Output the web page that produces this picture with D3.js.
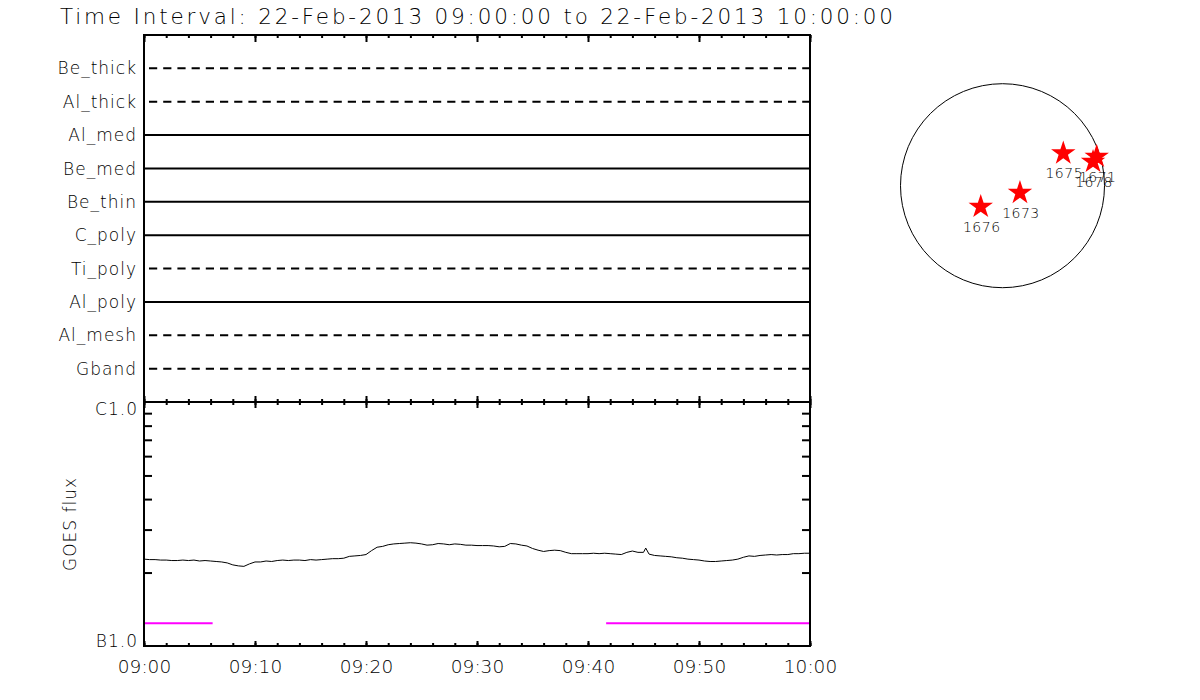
<!DOCTYPE html>
<html><head><meta charset="utf-8">
<script src="https://cdn.jsdelivr.net/npm/d3@7"></script>
<style>
body{margin:0;background:#fff}
svg text{font-family:"DejaVu Sans","Liberation Sans",sans-serif;font-weight:200;fill:#000}
</style>
</head><body>
<svg id="chart" width="1200" height="700"></svg>
<script>
// ---------------- data ----------------
const titleText = "Time Interval: 22-Feb-2013 09:00:00 to 22-Feb-2013 10:00:00";
const dayStr = "2013-02-22";
const startTime = "09:00:00";
const endTime = "10:00:00";

const channels = ["Be_thick","Al_thick","Al_med","Be_med","Be_thin","C_poly","Ti_poly","Al_poly","Al_mesh","Gband"];
const channelStyle = ["dashed","dashed","solid","solid","solid","solid","dashed","solid","dashed","dashed"];

const xTickLabels = ["09:00","09:10","09:20","09:30","09:40","09:50","10:00"];
const yTickLabels = ["B1.0","C1.0"];
const yLabel = "GOES flux";

// GOES 1-8 A flux, minutes after 09:00, flux in units of 1e-7 W m^-2
const goesMinutes = [0,0.5,1,1.5,2,2.5,3,3.5,4,4.5,5,5.5,6,6.5,7,7.5,8,8.5,9,9.5,
  10,10.5,11,11.5,12,12.5,13,13.5,14,14.5,15,15.5,16,16.5,17,17.5,18,18.5,19,19.5,
  20,20.5,21,21.5,22,22.5,23,23.5,24,24.5,25,25.5,26,26.5,27,27.5,28,28.5,29,29.5,
  30,30.5,31,31.5,32,32.5,33,33.5,34,34.5,35,35.5,36,36.5,37,37.5,38,38.5,39,39.5,
  40,40.5,41,41.5,42,42.5,43,43.5,44,44.5,45,45.2,45.5,46,46.5,47,47.5,48,48.5,49,49.5,
  50,50.5,51,51.5,52,52.5,53,53.5,54,54.5,55,55.5,56,56.5,57,57.5,58,58.5,59,59.5,60];
const goesFlux = [2.27,2.26,2.26,2.25,2.25,2.24,2.24,2.25,2.24,2.25,2.23,2.24,2.23,2.22,2.21,2.19,2.15,2.13,2.12,2.17,
  2.21,2.21,2.23,2.22,2.24,2.25,2.24,2.25,2.25,2.24,2.26,2.25,2.26,2.27,2.28,2.28,2.29,2.33,2.34,2.35,
  2.37,2.46,2.54,2.56,2.60,2.62,2.63,2.64,2.65,2.64,2.62,2.59,2.60,2.63,2.62,2.60,2.62,2.61,2.59,2.59,
  2.58,2.58,2.58,2.57,2.55,2.56,2.63,2.62,2.59,2.57,2.51,2.47,2.44,2.46,2.47,2.46,2.42,2.39,2.39,2.39,
  2.39,2.40,2.39,2.40,2.39,2.38,2.37,2.42,2.45,2.42,2.42,2.52,2.38,2.35,2.34,2.33,2.32,2.30,2.29,2.27,2.26,
  2.25,2.23,2.22,2.22,2.23,2.24,2.25,2.27,2.31,2.34,2.33,2.35,2.36,2.37,2.36,2.37,2.37,2.39,2.39,2.40,2.40];

// magenta intervals
const intervalStart = ["09:00:00","09:41:38"];
const intervalEnd = ["09:06:11","10:00:00"];
const intervalLevel = 1.24; // 1e-7 W m^-2

// active regions, disk position in arcsec
const arNames = ["1676","1673","1675","1671","1678"];
const arX = [-207,166,578,896,861];
const arY = [-200,-67,308,276,228];
const solarRadius = 970;

// ---------------- layout ----------------
const L = 144, R = 810;
const topT = 35, topB = 402, botB = 646;
const svg = d3.select("#chart");
const T = s => new Date(dayStr + "T" + s + "Z");
const t0 = T(startTime), t1 = T(endTime);

const x = d3.scaleUtc().domain([t0, t1]).range([L, R]);
const yCh = d3.scalePoint().domain(channels).range([topT, topB]).padding(1);
const yG = d3.scaleLog().domain([1e-7, 1e-6]).range([botB, topB]);

// title
svg.append("text").attr("x", 60).attr("y", 24).attr("font-size", 21.5)
  .attr("textLength", 833).attr("lengthAdjust", "spacing").text(titleText);

// channel lines
const gLines = svg.append("g");
channels.forEach((c, i) => {
  gLines.append("line")
    .attr("x1", x(t0)).attr("x2", x(t1))
    .attr("y1", yCh(c)).attr("y2", yCh(c))
    .attr("stroke", "#000").attr("stroke-width", 2)
    .attr("stroke-dasharray", channelStyle[i] === "dashed" ? "8.2,6" : null)
    .attr("stroke-dashoffset", channelStyle[i] === "dashed" ? -5 : null);
});
// channel labels
svg.append("g").selectAll("text").data(channels).join("text")
  .attr("x", 137).attr("y", d => yCh(d)).attr("dy", "0.36em")
  .attr("text-anchor", "end").attr("font-size", 17)
  .attr("letter-spacing", 1).text(d => d);

// GOES curve
const goesData = goesMinutes.map((m, i) => ({t: new Date(t0.getTime() + m * 60000), f: goesFlux[i] * 1e-7}));
svg.append("path").datum(goesData)
  .attr("fill", "none").attr("stroke", "#000").attr("stroke-width", 1)
  .attr("d", d3.line().x(d => x(d.t)).y(d => yG(d.f)));

// magenta intervals
svg.append("g").selectAll("line").data(intervalStart).join("line")
  .attr("x1", (d) => x(T(d))).attr("x2", (d, i) => x(T(intervalEnd[i])))
  .attr("y1", yG(intervalLevel * 1e-7)).attr("y2", yG(intervalLevel * 1e-7))
  .attr("stroke", "#ff00ff").attr("stroke-width", 2);

// axes helpers
function styleAxis(g) {
  g.select(".domain").remove();
  g.selectAll(".tick line").attr("stroke", "#000").attr("stroke-width", 2);
  g.selectAll(".tick text").remove();
}
const minor = d3.utcMinute.every(2), major = d3.utcMinute.every(10);

// top of top panel (ticks downward)
svg.append("g").attr("transform", `translate(0,${topT})`)
  .call(d3.axisBottom(x).ticks(minor).tickSize(3).tickSizeOuter(0)).call(styleAxis);
svg.append("g").attr("transform", `translate(0,${topT})`)
  .call(d3.axisBottom(x).ticks(major).tickSize(7).tickSizeOuter(0)).call(styleAxis);
// shared boundary (both directions)
[d3.axisTop, d3.axisBottom].forEach(ax => {
  svg.append("g").attr("transform", `translate(0,${topB})`)
    .call(ax(x).ticks(minor).tickSize(3).tickSizeOuter(0)).call(styleAxis);
  svg.append("g").attr("transform", `translate(0,${topB})`)
    .call(ax(x).ticks(major).tickSize(6).tickSizeOuter(0)).call(styleAxis);
});
// bottom axis (ticks upward)
svg.append("g").attr("transform", `translate(0,${botB})`)
  .call(d3.axisTop(x).ticks(minor).tickSize(3).tickSizeOuter(0)).call(styleAxis);
svg.append("g").attr("transform", `translate(0,${botB})`)
  .call(d3.axisTop(x).ticks(major).tickSize(5).tickSizeOuter(0)).call(styleAxis);
// x tick labels
const xLab = svg.append("g").attr("transform", `translate(0,${botB})`)
  .call(d3.axisBottom(x).ticks(major).tickSize(0).tickSizeOuter(0)
    .tickFormat((d, i) => xTickLabels[i]));
xLab.select(".domain").remove();
xLab.selectAll(".tick text").attr("y", 27).attr("dy", 0)
  .attr("font-size", 18.5).attr("font-family", null).attr("fill", "#000");

// log y minor ticks
const yMinor = [2,3,4,5,6,7,8,9].map(v => v * 1e-7);
svg.append("g").attr("transform", `translate(${L},0)`)
  .call(d3.axisRight(yG).tickValues(yMinor).tickSize(8).tickSizeOuter(0)).call(styleAxis);
svg.append("g").attr("transform", `translate(${R},0)`)
  .call(d3.axisLeft(yG).tickValues(yMinor).tickSize(8).tickSizeOuter(0)).call(styleAxis);

// y tick labels
svg.append("text").attr("x", 138).attr("y", yG(1e-7) + 0.5).attr("text-anchor", "end")
  .attr("font-size", 17).attr("letter-spacing", 1).text(yTickLabels[0]);
svg.append("text").attr("x", 138).attr("y", yG(1e-6) + 13).attr("text-anchor", "end")
  .attr("font-size", 17).attr("letter-spacing", 1).text(yTickLabels[1]);
// y label
svg.append("text").attr("transform", `translate(76,${(topB + botB) / 2}) rotate(-90)`)
  .attr("text-anchor", "middle").attr("font-size", 17).attr("letter-spacing", 1).text(yLabel);

// frames
svg.append("rect").attr("x", L).attr("y", topT).attr("width", R - L).attr("height", botB - topT)
  .attr("fill", "none").attr("stroke", "#000").attr("stroke-width", 2);
svg.append("line").attr("x1", L).attr("x2", R).attr("y1", topB).attr("y2", topB)
  .attr("stroke", "#000").attr("stroke-width", 2);

// solar disk
const cx = 1002.5, cy = 185.7, rPx = 102;
const sx = d3.scaleLinear().domain([-solarRadius, solarRadius]).range([cx - rPx, cx + rPx]);
const sy = d3.scaleLinear().domain([-solarRadius, solarRadius]).range([cy + rPx, cy - rPx]);
svg.append("circle").attr("cx", sx(0)).attr("cy", sy(0)).attr("r", sx(solarRadius) - sx(0))
  .attr("fill", "none").attr("stroke", "#000").attr("stroke-width", 1);
const star = d3.symbol().type(d3.symbolStar).size(185);
svg.append("g").selectAll("path").data(arNames).join("path")
  .attr("transform", (d, i) => `translate(${sx(arX[i])},${sy(arY[i])})`)
  .attr("d", star).attr("fill", "#ff0000");
svg.append("g").selectAll("text").data(arNames).join("text")
  .attr("x", (d, i) => sx(arX[i]) + 1).attr("y", (d, i) => sy(arY[i]) + 25)
  .attr("text-anchor", "middle").attr("font-size", 14).attr("letter-spacing", 0.5).text(d => d);
</script>
</body></html>
